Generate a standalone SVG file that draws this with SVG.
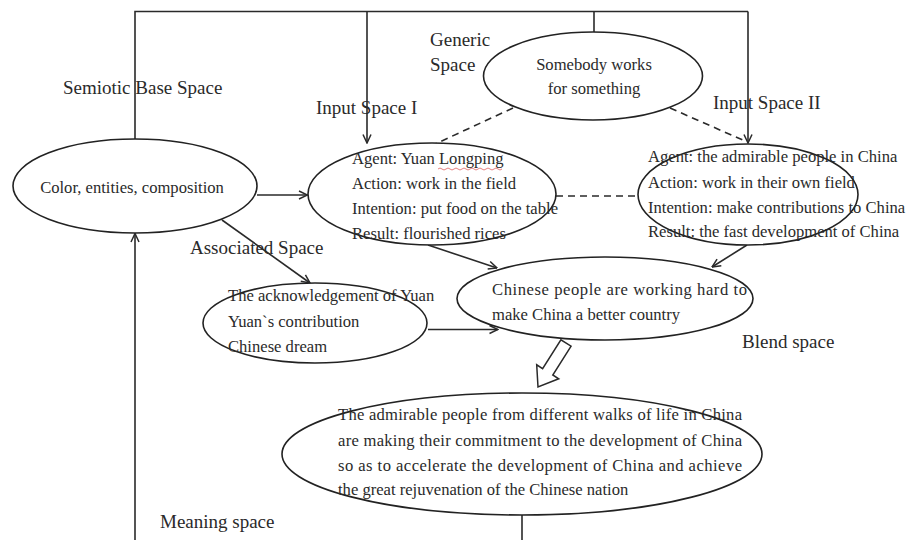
<svg xmlns="http://www.w3.org/2000/svg" width="909" height="540" viewBox="0 0 909 540">
  <defs>
    <style>
      .bg { fill: #ffffff; }
      .node { fill: #ffffff; stroke: #222222; stroke-width: 1.6; }
      .txt { font-family: "Liberation Serif", "Times New Roman", serif; font-size: 16.6px; fill: #2a2a2a; }
      .lbl { font-family: "Liberation Serif", "Times New Roman", serif; font-size: 19px; fill: #2a2a2a; }
      .mid { text-anchor: middle; }
      .wire { fill: none; stroke: #2a2a2a; stroke-width: 1.6; }
      .dash { fill: none; stroke: #2a2a2a; stroke-width: 1.6; stroke-dasharray: 7 5; }
      .hollow { fill: #ffffff; stroke: #2a2a2a; stroke-width: 1.5; stroke-linejoin: miter; }
    </style>
    <marker id="arr" viewBox="0 0 10 10" refX="9.5" refY="5" markerWidth="10" markerHeight="10" markerUnits="userSpaceOnUse" orient="auto">
      <path d="M1,1 L9.5,5 L1,9" fill="none" stroke="#2a2a2a" stroke-width="1.5"/>
    </marker>
  </defs>

  <rect class="bg" x="0" y="0" width="909" height="540"/>

  <!-- connectors -->
  <g id="connectors">
    <!-- top frame bus -->
    <path class="wire" d="M135,140 V11.5 H748"/>
    <path class="wire" d="M367,11.5 V143" marker-end="url(#arr)"/>
    <path class="wire" d="M594,11.5 V32"/>
    <path class="wire" d="M748,11.5 V143" marker-end="url(#arr)"/>
    <!-- meaning feedback loop -->
    <path class="wire" d="M522,515 V540"/>
    <path class="wire" d="M135,540 V233.5" marker-end="url(#arr)"/>
    <!-- semiotic base to inputs -->
    <path class="wire" d="M257,195 H307.5" marker-end="url(#arr)"/>
    <path class="wire" d="M222,220 L310,283" marker-end="url(#arr)"/>
    <!-- generic space links -->
    <path class="dash" d="M513,108 L433,145"/>
    <path class="dash" d="M670,108 L745,141"/>
    <path class="dash" d="M556,196 H638"/>
    <!-- inputs to blend -->
    <path class="wire" d="M428,245 L497,268" marker-end="url(#arr)"/>
    <path class="wire" d="M747,245 L712,267" marker-end="url(#arr)"/>
    <path class="wire" d="M428,329.5 H498" marker-end="url(#arr)"/>
    <!-- blend to meaning: hollow block arrow -->
    <polygon class="hollow" points="571.1,346.2 552.8,375 558.7,378.8 538,387 536.7,364.8 542.6,368.6 560.9,339.8"/>
  </g>

  <!-- space labels -->
  <g id="labels">
    <text class="lbl" x="63" y="94">Semiotic Base Space</text>
    <text class="lbl" x="430" y="46">Generic</text>
    <text class="lbl" x="430" y="71">Space</text>
    <text class="lbl" x="316" y="114">Input Space I</text>
    <text class="lbl" x="713" y="109">Input Space II</text>
    <text class="lbl" x="190" y="254">Associated Space</text>
    <text class="lbl" x="742" y="348">Blend space</text>
    <text class="lbl" x="160" y="528">Meaning space</text>
  </g>

  <g id="semiotic-base">
    <ellipse class="node" cx="135" cy="186" rx="122" ry="47"/>
    <text class="txt mid" x="132" y="193">Color, entities, composition</text>
  </g>

  <g id="generic-space">
    <ellipse class="node" cx="593" cy="76" rx="109.5" ry="44"/>
    <text class="txt mid" x="594" y="70">Somebody works</text>
    <text class="txt mid" x="594" y="94">for something</text>
  </g>

  <g id="input-space-1">
    <ellipse class="node" cx="432" cy="194" rx="124" ry="51"/>
    <text class="txt" x="352" y="164">Agent: Yuan Longping</text>
    <path d="M438,169 q2,-2 4,0 t4,0 t4,0 t4,0 t4,0 t4,0 t4,0 t4,0 t4,0 t4,0 t4,0 t4,0 t4,0 t4,0 t4,0 t4,0" fill="none" stroke="#e06060" stroke-width="0.8"/>
    <text class="txt" x="352" y="189">Action: work in the field</text>
    <text class="txt" x="352" y="214">Intention: put food on the table</text>
    <text class="txt" x="352" y="239">Result: flourished rices</text>
  </g>

  <g id="input-space-2">
    <ellipse class="node" cx="748" cy="194.5" rx="110" ry="50.5"/>
    <text class="txt" x="648" y="162">Agent: the admirable people in China</text>
    <text class="txt" x="648" y="188">Action: work in their own field</text>
    <text class="txt" x="648" y="213">Intention: make contributions to China</text>
    <text class="txt" x="648" y="237">Result: the fast development of China</text>
  </g>

  <g id="associated-space">
    <ellipse class="node" cx="315" cy="323" rx="112" ry="40"/>
    <text class="txt" x="228" y="301">The acknowledgement of Yuan</text>
    <text class="txt" x="228" y="327">Yuan`s contribution</text>
    <text class="txt" x="228" y="352">Chinese dream</text>
  </g>

  <g id="blend-space">
    <ellipse class="node" cx="605" cy="298.5" rx="148" ry="41.5"/>
    <text class="txt" x="492" y="295" textLength="255" lengthAdjust="spacing">Chinese people are working hard to</text>
    <text class="txt" x="492" y="320">make China a better country</text>
  </g>

  <g id="meaning-space">
    <ellipse class="node" cx="522" cy="454" rx="240" ry="61"/>
    <text class="txt" x="338" y="420" textLength="404" lengthAdjust="spacing">The admirable people from different walks of life in China</text>
    <text class="txt" x="338" y="446" textLength="404" lengthAdjust="spacing">are making their commitment to the development of China</text>
    <text class="txt" x="338" y="471" textLength="404" lengthAdjust="spacing">so as to accelerate the development of China and achieve</text>
    <text class="txt" x="338" y="495">the great rejuvenation of the Chinese nation</text>
  </g>
</svg>
